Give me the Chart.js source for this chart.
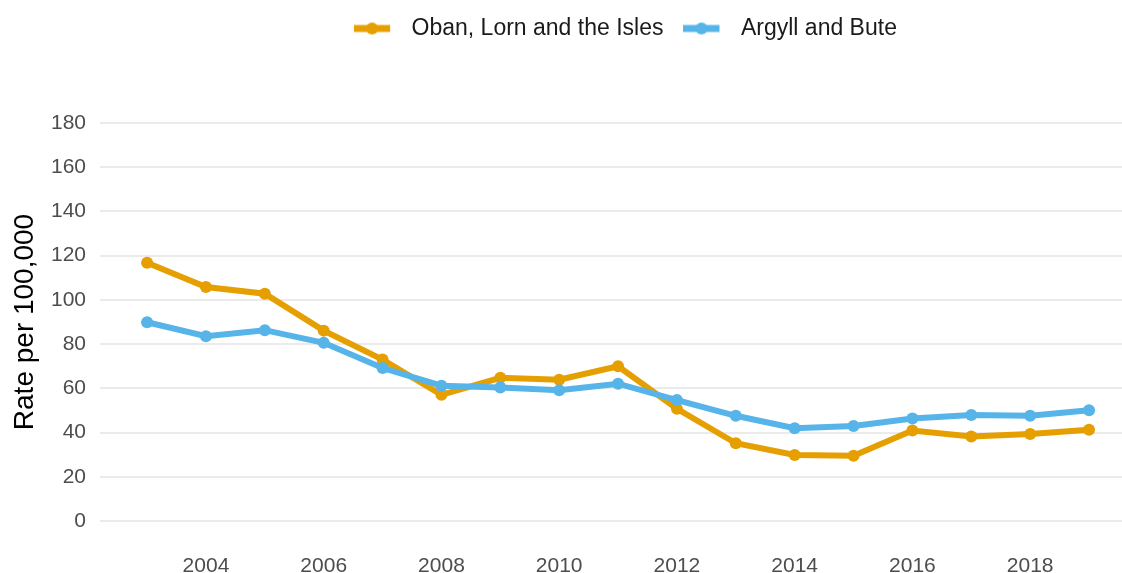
<!DOCTYPE html>
<html>
<head>
<meta charset="utf-8">
<script src="https://cdn.jsdelivr.net/npm/chart.js@4.4.1/dist/chart.umd.min.js"></script>
<style>
  html, body { margin: 0; padding: 0; background: #fff; }
  #wrap { width: 1122px; height: 573px; position: relative; }
</style>
</head>
<body>
<div id="wrap"><canvas id="chart"></canvas></div>
<script>
// ---- data ----
const years   = [2003, 2004, 2005, 2006, 2007, 2008, 2009, 2010, 2011, 2012, 2013, 2014, 2015, 2016, 2017, 2018, 2019];
const obanLorn = [116.8, 105.8, 102.8, 86.1, 73.0, 57.1, 64.8, 63.9, 70.0, 50.8, 35.2, 29.9, 29.5, 40.9, 38.2, 39.4, 41.3];
const argyllBute = [89.9, 83.6, 86.3, 80.6, 69.2, 61.2, 60.4, 59.2, 62.1, 54.7, 47.6, 42.0, 43.0, 46.4, 48.0, 47.6, 50.1];
const yTicks = [0, 20, 40, 60, 80, 100, 120, 140, 160, 180];
const xTicks = [2004, 2006, 2008, 2010, 2012, 2014, 2016, 2018];

const ORANGE = '#E69F00';
const BLUE   = '#56B4E9';
const FONT   = 'Liberation Sans, Arial, sans-serif';

// legend swatch: short thick line with a dot, padded on the right
function makeMarker(color) {
  const c = document.createElement('canvas');
  c.width = 46; c.height = 14;
  const g = c.getContext('2d');
  g.strokeStyle = color;
  g.lineWidth = 7;
  g.beginPath(); g.moveTo(0, 7); g.lineTo(36, 7); g.stroke();
  g.fillStyle = color;
  g.beginPath(); g.arc(18, 7, 6, 0, Math.PI * 2); g.fill();
  return c;
}
const markers = [makeMarker(ORANGE), makeMarker(BLUE)];

const toXY = vals => vals.map((v, i) => ({ x: years[i], y: v }));

// legend sits centred over the (wider, cropped) plot area
const legendShift = {
  id: 'legendShift',
  beforeLayout(chart) {
    const lg = chart.legend;
    if (lg && !lg._patched) {
      const fit = lg.fit;
      lg.fit = function () { fit.call(this); this.height = 103; };
      lg._patched = true;
    }
  },
  afterLayout(chart) {
    const lg = chart.legend;
    lg.left = 100; lg.right = 1151; lg.top = -3;
  }
};

new Chart(document.getElementById('chart'), {
  type: 'line',
  data: {
    datasets: [
      {
        label: 'Oban, Lorn and the Isles',
        data: toXY(obanLorn),
        borderColor: ORANGE,
        backgroundColor: ORANGE,
        borderWidth: 6,
        pointRadius: 6,
        pointHoverRadius: 6,
        pointBorderWidth: 0,
        pointBackgroundColor: ORANGE,
        tension: 0,
        order: 1,
      },
      {
        label: 'Argyll and Bute',
        data: toXY(argyllBute),
        borderColor: BLUE,
        backgroundColor: BLUE,
        borderWidth: 6,
        pointRadius: 6,
        pointHoverRadius: 6,
        pointBorderWidth: 0,
        pointBackgroundColor: BLUE,
        tension: 0,
        order: 0,
      }
    ]
  },
  options: {
    responsive: true,
    maintainAspectRatio: false,
    animation: false,
    layout: { padding: 0, autoPadding: false },
    plugins: {
      legend: {
        position: 'top',
        labels: {
          usePointStyle: true,
          pointStyleWidth: 46,
          padding: 20,
          color: '#1a1a1a',
          font: { family: FONT, size: 23 },
          generateLabels: chart => {
            const items = Chart.defaults.plugins.legend.labels.generateLabels(chart);
            items.sort((a, b) => a.datasetIndex - b.datasetIndex);
            return items.map(it => Object.assign(it, { pointStyle: markers[it.datasetIndex] }));
          }
        }
      },
      tooltip: { enabled: false }
    },
    scales: {
      x: {
        type: 'linear',
        min: 2002.2,
        max: 2019.56,
        grid: { display: false },
        border: { display: false },
        afterBuildTicks: axis => { axis.ticks = xTicks.map(v => ({ value: v })); },
        afterFit: scale => { scale.height = 32; scale.paddingLeft = 0; scale.paddingRight = 0; },
        ticks: {
          padding: 5,
          color: '#4d4d4d',
          font: { family: FONT, size: 21 },
          callback: v => String(v),
          maxRotation: 0,
        }
      },
      y: {
        min: -9,
        max: 189,
        grid: { color: '#ebebeb', lineWidth: 2, drawTicks: false },
        border: { display: false },
        afterBuildTicks: axis => { axis.ticks = yTicks.map(v => ({ value: v })); },
        afterFit: scale => { scale.width = 100; },
        ticks: {
          padding: 14,
          color: '#4d4d4d',
          font: { family: FONT, size: 21 },
          callback: v => String(v),
        },
        title: {
          display: true,
          text: 'Rate per 100,000',
          color: '#000',
          padding: { top: 8, bottom: 0 },
          font: { family: FONT, size: 28 },
        }
      }
    }
  },
  plugins: [legendShift]
});
</script>
</body>
</html>
